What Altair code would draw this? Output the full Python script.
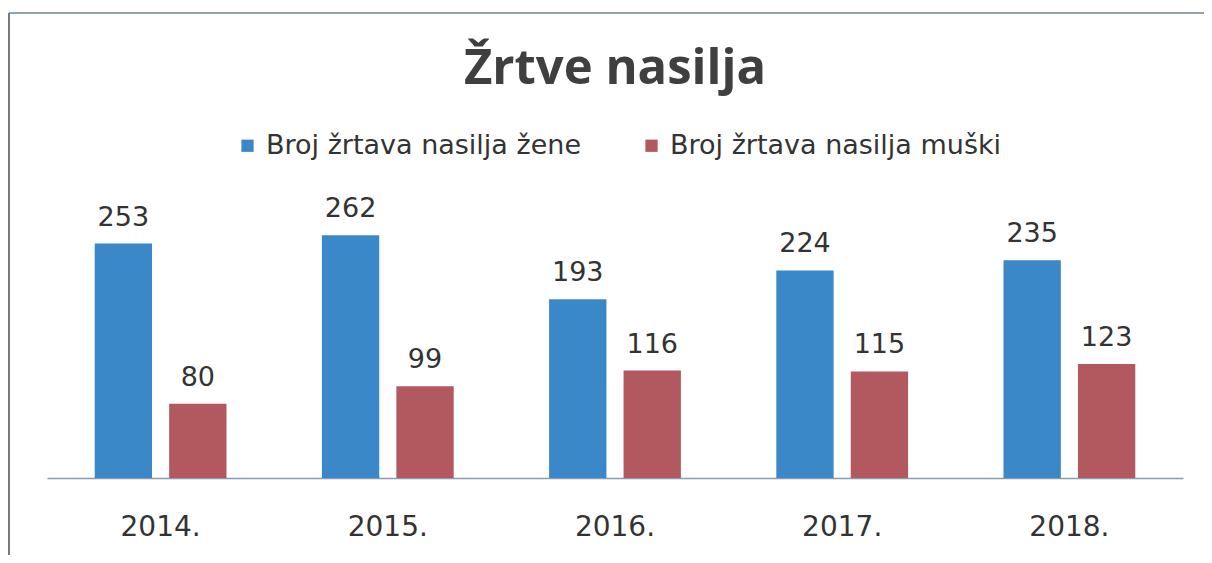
import altair as alt
import pandas as pd

years = ["2014.", "2015.", "2016.", "2017.", "2018."]
zene = [253, 262, 193, 224, 235]
muski = [80, 99, 116, 115, 123]
series = ["Broj žrtava nasilja žene", "Broj žrtava nasilja muški"]
colors = ["#3a88c7", "#b2585f"]

rows = []
for i, y in enumerate(years):
    rows.append({"godina": y, "serija": series[0], "vrijednost": zene[i]})
    rows.append({"godina": y, "serija": series[1], "vrijednost": muski[i]})
df = pd.DataFrame(rows)

W, H = 1136, 278

x = alt.X("godina:N", sort=years,
          scale=alt.Scale(paddingInner=0.42, paddingOuter=0.21),
          axis=alt.Axis(title=None, labelAngle=0, ticks=False, labelPadding=35,
                        labelFont="DejaVu Sans", labelFontSize=28, labelColor="#333333",
                        domainColor="#8a9db0", domainWidth=1.5))
xo = alt.XOffset("serija:N", sort=series, scale=alt.Scale(paddingInner=0.23))
y = alt.Y("vrijednost:Q", scale=alt.Scale(domain=[0, 300]), axis=None)

bars = alt.Chart(df).mark_bar().encode(
    x=x, xOffset=xo, y=y,
    color=alt.Color("serija:N", sort=series,
                    scale=alt.Scale(domain=series, range=colors),
                    legend=alt.Legend(title=None, orient="none", direction="horizontal",
                                      legendX=187, legendY=-68,
                                      symbolType="square", symbolSize=150,
                                      symbolStrokeWidth=0, symbolOpacity=1,
                                      labelFont="DejaVu Sans", labelFontSize=27,
                                      labelColor="#333333", labelOffset=5,
                                      columnPadding=56, labelLimit=500)),
)

labels = alt.Chart(df).mark_text(baseline="alphabetic", dy=-18, font="DejaVu Sans",
                                 fontSize=27, color="#333333").encode(
    x=alt.X("godina:N", sort=years), xOffset=xo, y=y, text="vrijednost:Q"
)

frame_data = alt.Data(values=[{"a": 1}])
top_line = alt.Chart(frame_data).mark_rule(color="#8fa3b3", strokeWidth=2).encode(
    x=alt.value(-38), x2=alt.value(1160), y=alt.value(-187))
left_line = alt.Chart(frame_data).mark_rule(color="#7a7a7a", strokeWidth=2).encode(
    x=alt.value(-38), y=alt.value(-187), y2=alt.value(400))

chart = alt.layer(top_line, left_line, bars, labels).properties(
    width=W, height=H,
    title=alt.TitleParams("Žrtve nasilja", anchor="middle", font="Open Sans",
                          fontSize=49, fontWeight="bold", color="#3f3f3f",
                          frame="group", offset=-82),
    autosize=alt.AutoSizeParams(type="none"),
    padding={"left": 39, "top": 192, "right": 21, "bottom": 77},
).configure_view(stroke=None)

chart.save("out.html", embed_options={"renderer": "svg", "actions": False})
